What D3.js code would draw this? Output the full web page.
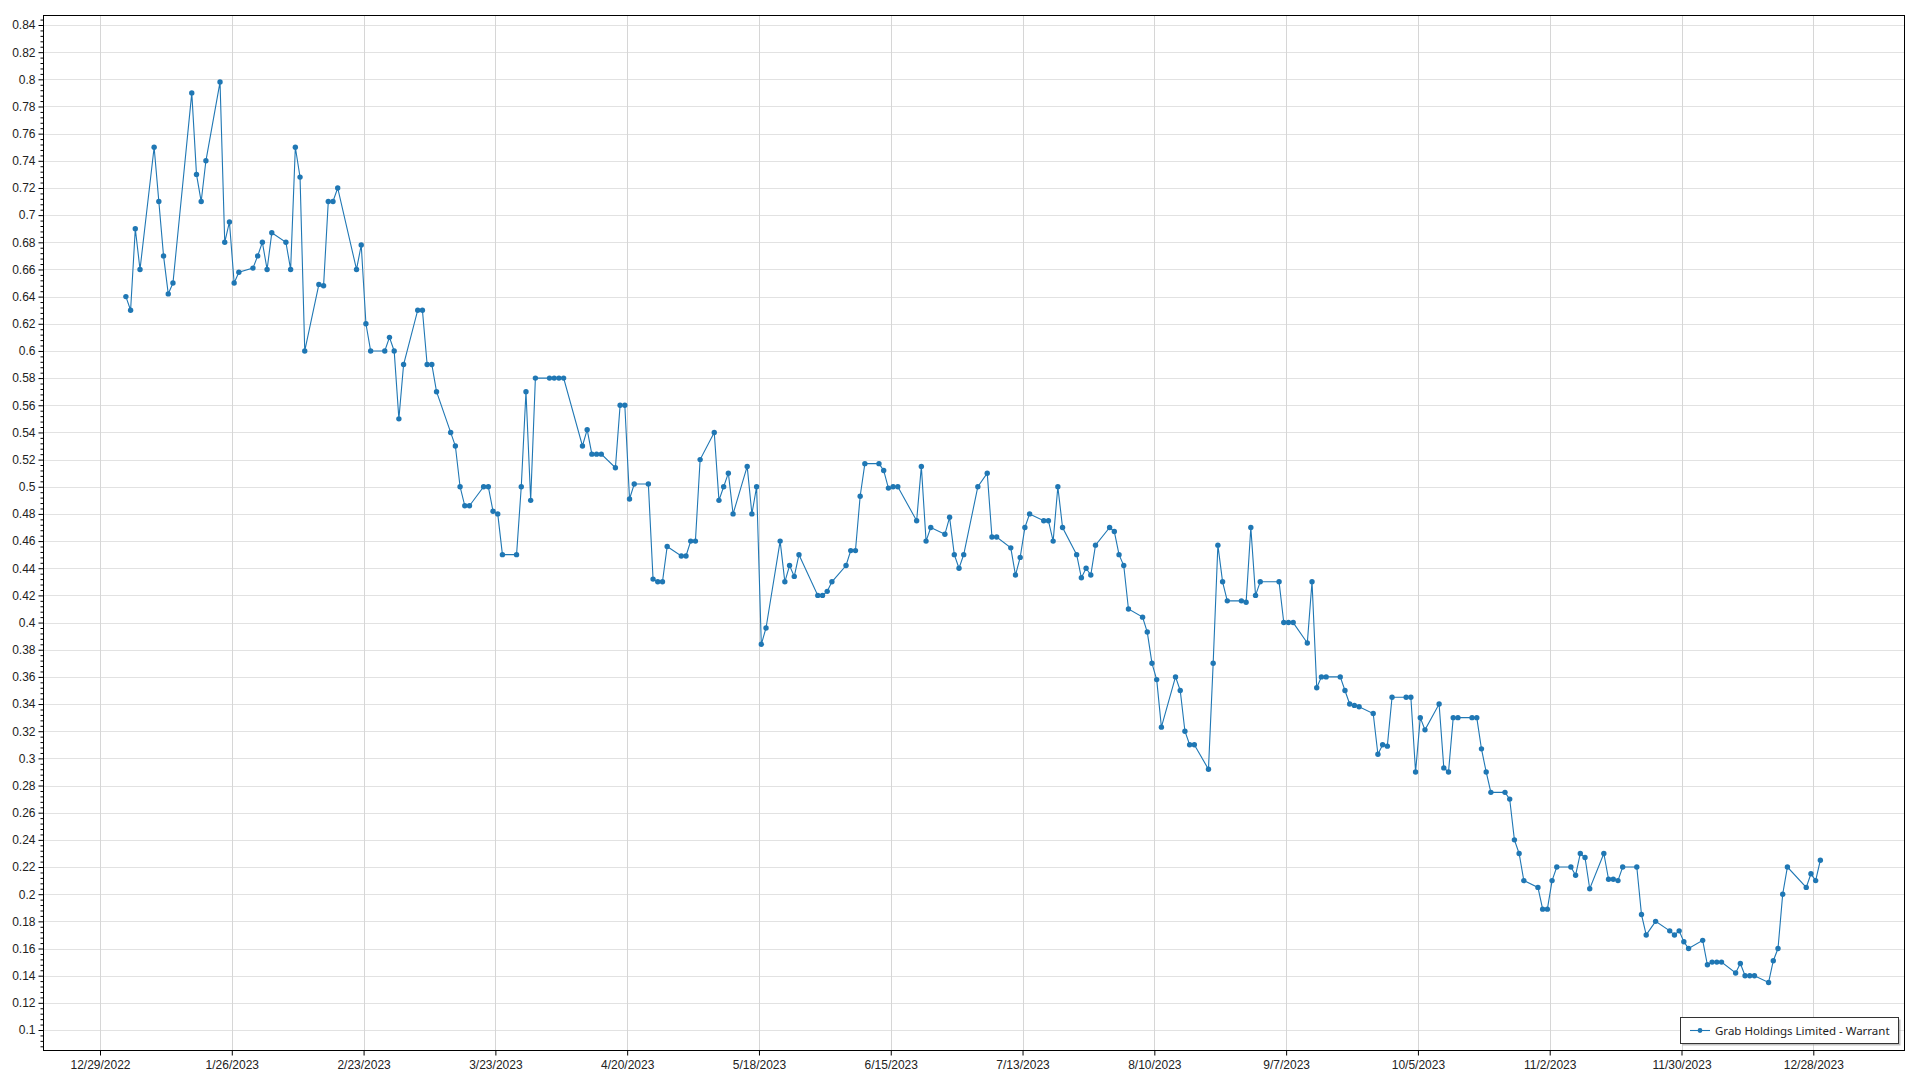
<!DOCTYPE html>
<html><head><meta charset="utf-8">
<script src="https://cdn.jsdelivr.net/npm/d3@7"></script>
<style>
html,body{margin:0;padding:0;background:#fff;}
svg{display:block;font-family:"Segoe UI","Noto Sans","Open Sans",sans-serif;}
</style></head>
<body><svg id="chart" width="1920" height="1080"></svg>
<script>
const seriesName = "Grab Holdings Limited - Warrant";
const dates = [
"2023-01-03","2023-01-04","2023-01-05","2023-01-06","2023-01-09","2023-01-10","2023-01-11","2023-01-12","2023-01-13",
"2023-01-17","2023-01-18","2023-01-19","2023-01-20","2023-01-23","2023-01-24","2023-01-25","2023-01-26","2023-01-27",
"2023-01-30","2023-01-31","2023-02-01","2023-02-02","2023-02-03","2023-02-06","2023-02-07","2023-02-08","2023-02-09","2023-02-10",
"2023-02-13","2023-02-14","2023-02-15","2023-02-16","2023-02-17","2023-02-21","2023-02-22","2023-02-23","2023-02-24",
"2023-02-27","2023-02-28","2023-03-01","2023-03-02","2023-03-03","2023-03-06","2023-03-07","2023-03-08","2023-03-09","2023-03-10",
"2023-03-13","2023-03-14","2023-03-15","2023-03-16","2023-03-17","2023-03-20","2023-03-21","2023-03-22","2023-03-23","2023-03-24",
"2023-03-27","2023-03-28","2023-03-29","2023-03-30","2023-03-31","2023-04-03","2023-04-04","2023-04-05","2023-04-06",
"2023-04-10","2023-04-11","2023-04-12","2023-04-13","2023-04-14","2023-04-17","2023-04-18","2023-04-19","2023-04-20","2023-04-21",
"2023-04-24","2023-04-25","2023-04-26","2023-04-27","2023-04-28","2023-05-01","2023-05-02","2023-05-03","2023-05-04","2023-05-05",
"2023-05-08","2023-05-09","2023-05-10","2023-05-11","2023-05-12","2023-05-15","2023-05-16","2023-05-17","2023-05-18","2023-05-19",
"2023-05-22","2023-05-23","2023-05-24","2023-05-25","2023-05-26","2023-05-30","2023-05-31","2023-06-01","2023-06-02",
"2023-06-05","2023-06-06","2023-06-07","2023-06-08","2023-06-09","2023-06-12","2023-06-13","2023-06-14","2023-06-15","2023-06-16",
"2023-06-20","2023-06-21","2023-06-22","2023-06-23","2023-06-26","2023-06-27","2023-06-28","2023-06-29","2023-06-30",
"2023-07-03","2023-07-05","2023-07-06","2023-07-07","2023-07-10","2023-07-11","2023-07-12","2023-07-13","2023-07-14",
"2023-07-17","2023-07-18","2023-07-19","2023-07-20","2023-07-21","2023-07-24","2023-07-25","2023-07-26","2023-07-27","2023-07-28",
"2023-07-31","2023-08-01","2023-08-02","2023-08-03","2023-08-04","2023-08-07","2023-08-08","2023-08-09","2023-08-10","2023-08-11",
"2023-08-14","2023-08-15","2023-08-16","2023-08-17","2023-08-18","2023-08-21","2023-08-22","2023-08-23","2023-08-24","2023-08-25",
"2023-08-28","2023-08-29","2023-08-30","2023-08-31","2023-09-01","2023-09-05","2023-09-06","2023-09-07","2023-09-08",
"2023-09-11","2023-09-12","2023-09-13","2023-09-14","2023-09-15","2023-09-18","2023-09-19","2023-09-20","2023-09-21","2023-09-22",
"2023-09-25","2023-09-26","2023-09-27","2023-09-28","2023-09-29","2023-10-02","2023-10-03","2023-10-04","2023-10-05","2023-10-06",
"2023-10-09","2023-10-10","2023-10-11","2023-10-12","2023-10-13","2023-10-16","2023-10-17","2023-10-18","2023-10-19","2023-10-20",
"2023-10-23","2023-10-24","2023-10-25","2023-10-26","2023-10-27","2023-10-30","2023-10-31","2023-11-01","2023-11-02","2023-11-03",
"2023-11-06","2023-11-07","2023-11-08","2023-11-09","2023-11-10","2023-11-13","2023-11-14","2023-11-15","2023-11-16","2023-11-17",
"2023-11-20","2023-11-21","2023-11-22","2023-11-24","2023-11-27","2023-11-28","2023-11-29","2023-11-30","2023-12-01",
"2023-12-04","2023-12-05","2023-12-06","2023-12-07","2023-12-08","2023-12-11","2023-12-12","2023-12-13","2023-12-14","2023-12-15",
"2023-12-18","2023-12-19","2023-12-20","2023-12-21","2023-12-22","2023-12-26","2023-12-27","2023-12-28","2023-12-29"
];
const prices = [
0.64,0.63,0.69,0.66,0.75,0.71,0.67,0.642,0.65,
0.79,0.73,0.71,0.74,0.798,0.68,0.695,0.65,0.658,
0.661,0.67,0.68,0.66,0.687,0.68,0.66,0.75,0.728,0.60,
0.649,0.648,0.71,0.71,0.72,0.66,0.678,0.62,0.60,
0.60,0.61,0.60,0.55,0.59,0.63,0.63,0.59,0.59,0.57,
0.54,0.53,0.50,0.486,0.486,0.50,0.50,0.482,0.48,0.45,
0.45,0.50,0.57,0.49,0.58,0.58,0.58,0.58,0.58,
0.53,0.542,0.524,0.524,0.524,0.514,0.56,0.56,0.491,0.502,
0.502,0.432,0.43,0.43,0.456,0.449,0.449,0.46,0.46,0.52,
0.54,0.49,0.50,0.51,0.48,0.515,0.48,0.50,0.384,0.396,
0.46,0.43,0.442,0.434,0.45,0.42,0.42,0.423,0.43,
0.442,0.453,0.453,0.493,0.517,0.517,0.512,0.499,0.50,0.50,
0.475,0.515,0.46,0.47,0.465,0.4775,0.45,0.44,0.45,
0.50,0.51,0.463,0.463,0.455,0.435,0.448,0.47,0.48,
0.475,0.475,0.46,0.50,0.47,0.45,0.433,0.44,0.435,0.457,
0.47,0.467,0.45,0.442,0.41,0.404,0.393,0.37,0.358,0.323,
0.36,0.35,0.32,0.31,0.31,0.292,0.37,0.457,0.43,0.416,
0.416,0.415,0.47,0.42,0.43,0.43,0.40,0.40,0.40,
0.385,0.43,0.352,0.36,0.36,0.36,0.35,0.34,0.339,0.338,
0.333,0.303,0.31,0.309,0.345,0.345,0.345,0.29,0.33,0.321,
0.34,0.293,0.29,0.33,0.33,0.33,0.33,0.307,0.29,0.275,
0.275,0.27,0.24,0.23,0.21,0.205,0.189,0.189,0.21,0.22,
0.22,0.214,0.23,0.227,0.204,0.23,0.211,0.211,0.21,0.22,
0.22,0.185,0.17,0.18,0.173,0.17,0.173,0.165,0.16,
0.166,0.148,0.15,0.15,0.15,0.142,0.149,0.14,0.14,0.14,
0.135,0.151,0.16,0.20,0.22,0.205,0.215,0.21,0.225
];
const xTickDates = ["2022-12-29","2023-01-26","2023-02-23","2023-03-23","2023-04-20","2023-05-18","2023-06-15",
"2023-07-13","2023-08-10","2023-09-07","2023-10-05","2023-11-02","2023-11-30","2023-12-28"];
const yTicks = [0.1,0.12,0.14,0.16,0.18,0.2,0.22,0.24,0.26,0.28,0.3,0.32,0.34,0.36,0.38,0.4,0.42,0.44,0.46,0.48,
0.5,0.52,0.54,0.56,0.58,0.6,0.62,0.64,0.66,0.68,0.7,0.72,0.74,0.76,0.78,0.8,0.82,0.84];

const DAY = 86400000;
const parseDay = s => { const [y,m,d] = s.split("-").map(Number); return new Date(y, m-1, d); };
const data = dates.map((d,i) => ({date: new Date(parseDay(d).getTime() + DAY/2), value: prices[i]}));
const xTicks = xTickDates.map(parseDay);

const L = 43, R = 1905, T = 15, B = 1050;
const x0 = parseDay("2022-12-29").getTime(), x1 = parseDay("2023-12-28").getTime();
const pxPerMs = (1813.3 - 100) / (x1 - x0);
const x = d3.scaleTime()
  .domain([new Date(x0 - (100 - L) / pxPerMs), new Date(x1 + (R - 1813.3) / pxPerMs)])
  .range([L, R]);
const y = d3.scaleLinear()
  .domain([0.1 - (B - 1030) / (1005 / 0.74), 0.84 + (25 - T) / (1005 / 0.74)])
  .range([B, T]);

const svg = d3.select("#chart");
const color = "#1f77b4";

// gridlines
const grid = svg.append("g");
grid.selectAll("line.h").data(yTicks).join("line")
  .attr("x1", L).attr("x2", R)
  .attr("y1", d => Math.round(y(d)) + 0.5).attr("y2", d => Math.round(y(d)) + 0.5)
  .attr("stroke", "#e2e2e2").attr("stroke-width", 1);
grid.selectAll("line.v").data(xTicks).join("line")
  .attr("y1", T).attr("y2", B)
  .attr("x1", d => Math.round(x(d)) + 0.5).attr("x2", d => Math.round(x(d)) + 0.5)
  .attr("stroke", "#d6d6d6").attr("stroke-width", 1);

// series
const line = d3.line().x(d => x(d.date)).y(d => y(d.value));
svg.append("path").datum(data).attr("d", line)
  .attr("fill", "none").attr("stroke", color).attr("stroke-width", 1.1);
svg.append("g").selectAll("circle").data(data).join("circle")
  .attr("cx", d => x(d.date)).attr("cy", d => y(d.value)).attr("r", 2.7).attr("fill", color);

// frame
svg.append("rect").attr("x", L + 0.5).attr("y", T + 0.5).attr("width", R - L - 1).attr("height", B - T)
  .attr("fill", "none").attr("stroke", "#000").attr("stroke-width", 1);

// y axis
const yAxis = d3.axisLeft(y).tickValues(yTicks).tickSize(5).tickPadding(3)
  .tickFormat(d => String(+d.toFixed(2)));
const gy = svg.append("g").attr("transform", `translate(${L + 0.5},0)`).call(yAxis);
gy.select(".domain").remove();
gy.selectAll("text").attr("font-size", 12).attr("fill", "#222").style("font-family", "inherit");
const minorY = d3.range(0.088, 0.8461, 0.004).filter(v => !yTicks.some(t => Math.abs(t - v) < 1e-6));
const yMinor = d3.axisLeft(y).tickValues(minorY).tickSize(3).tickFormat("");
const gym = svg.append("g").attr("transform", `translate(${L + 0.5},0)`).call(yMinor);
gym.select(".domain").remove();

// x axis
const fmt = d3.timeFormat("%-m/%-d/%Y");
const xAxis = d3.axisBottom(x).tickValues(xTicks).tickSize(5).tickPadding(5).tickFormat(fmt);
const gx = svg.append("g").attr("transform", `translate(0,${B + 0.5})`).call(xAxis);
gx.select(".domain").remove();
gx.selectAll("text").attr("font-size", 12).attr("fill", "#222").style("font-family", "inherit");

// legend
const lg = svg.append("g");
lg.append("rect").attr("x", 1682.5).attr("y", 1019.5).attr("width", 218).attr("height", 26).attr("fill", "#999").attr("opacity", 0.6);
lg.append("rect").attr("x", 1680.5).attr("y", 1017.5).attr("width", 218).attr("height", 26)
  .attr("fill", "#fff").attr("stroke", "#333").attr("stroke-width", 1);
lg.append("line").attr("x1", 1690).attr("x2", 1710).attr("y1", 1030.5).attr("y2", 1030.5)
  .attr("stroke", color).attr("stroke-width", 1.1);
lg.append("circle").attr("cx", 1700).attr("cy", 1030.5).attr("r", 2.4).attr("fill", color);
lg.append("text").attr("x", 1715).attr("y", 1030.5).attr("dy", "0.35em")
  .attr("font-size", 11.5).attr("fill", "#222").text(seriesName);
</script></body></html>
